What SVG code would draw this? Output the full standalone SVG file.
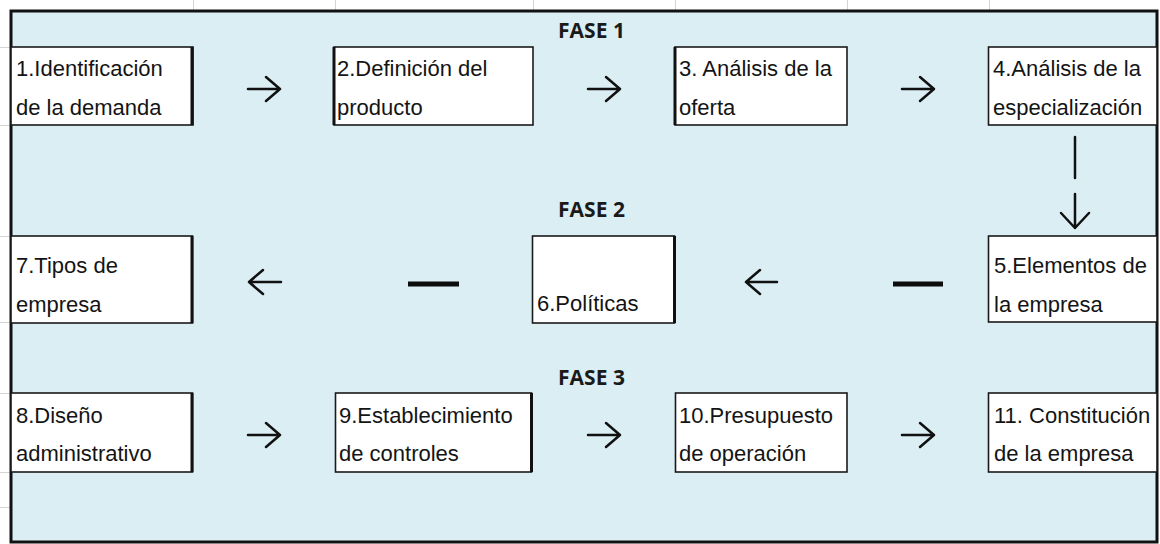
<svg xmlns="http://www.w3.org/2000/svg" width="1160" height="544" viewBox="0 0 1160 544">
<style>
.grid{stroke:#d4d4d4;stroke-width:1}
.box{fill:#ffffff;stroke:#1a1a1a;stroke-width:1.6}
.thick{stroke:#111;stroke-width:3}
.t{font-family:"Liberation Sans",Arial,sans-serif;font-size:22px;fill:#141414}
.fase{font-family:"Open Sans","Liberation Sans",sans-serif;font-weight:700;font-size:21px;fill:#1a1a1a;text-anchor:middle}
.arr{fill:none;stroke:#111;stroke-width:2.5;stroke-linecap:round;stroke-linejoin:round}
.dash{stroke:#0d0d0d;stroke-width:5}
</style>
<rect x="0" y="0" width="1160" height="544" fill="#ffffff"/>
<g id="gridlines">
<line class="grid" x1="193.5" y1="0" x2="193.5" y2="10"/>
<line class="grid" x1="335.5" y1="0" x2="335.5" y2="10"/>
<line class="grid" x1="533.5" y1="0" x2="533.5" y2="10"/>
<line class="grid" x1="675.5" y1="0" x2="675.5" y2="10"/>
<line class="grid" x1="847.5" y1="0" x2="847.5" y2="10"/>
<line class="grid" x1="989.5" y1="0" x2="989.5" y2="10"/>
<line class="grid" x1="0" y1="47.5" x2="10" y2="47.5"/>
<line class="grid" x1="0" y1="125.5" x2="10" y2="125.5"/>
<line class="grid" x1="0" y1="236.5" x2="10" y2="236.5"/>
<line class="grid" x1="0" y1="322.5" x2="10" y2="322.5"/>
<line class="grid" x1="0" y1="393.5" x2="10" y2="393.5"/>
<line class="grid" x1="0" y1="472.5" x2="10" y2="472.5"/>
<line class="grid" x1="0" y1="507.5" x2="10" y2="507.5"/>
</g>
<rect id="frame" x="11" y="11" width="1146" height="531" fill="#DAEEF3" stroke="#111" stroke-width="3"/>
<g id="labels">
<text class="fase" x="591.5" y="38">FASE 1</text>
<text class="fase" x="591.5" y="217">FASE 2</text>
<text class="fase" x="591.5" y="385">FASE 3</text>
</g>
<g id="n1">
<rect class="box" x="11" y="47" width="182" height="78"/>
<line class="thick" x1="192" y1="47" x2="192" y2="125"/>
<text class="t" x="16" y="76">1.Identificación</text>
<text class="t" x="16" y="115">de la demanda</text>
</g>
<g id="n2">
<rect class="box" x="334" y="47" width="199" height="78"/>
<line class="thick" x1="334" y1="47" x2="334" y2="125"/>
<text class="t" x="337" y="76">2.Definición del</text>
<text class="t" x="337" y="115">producto</text>
</g>
<g id="n3">
<rect class="box" x="675" y="47" width="172" height="78"/>
<line class="thick" x1="675" y1="47" x2="675" y2="125"/>
<text class="t" x="679" y="76">3. Análisis de la</text>
<text class="t" x="679" y="115">oferta</text>
</g>
<g id="n4">
<rect class="box" x="988.5" y="47" width="168.5" height="78"/>
<text class="t" x="993" y="76">4.Análisis de la</text>
<text class="t" x="993" y="115">especialización</text>
</g>
<g id="n5">
<rect class="box" x="988.5" y="236" width="168.5" height="86"/>
<text class="t" x="994" y="273">5.Elementos de</text>
<text class="t" x="994" y="312">la empresa</text>
</g>
<g id="n6">
<rect class="box" x="532.5" y="236" width="142" height="87"/>
<line class="thick" x1="674.5" y1="236" x2="674.5" y2="323"/>
<text class="t" x="537" y="311">6.Políticas</text>
</g>
<g id="n7">
<rect class="box" x="11" y="236" width="181.5" height="87"/>
<line class="thick" x1="192" y1="236" x2="192" y2="323"/>
<text class="t" x="16" y="273">7.Tipos de</text>
<text class="t" x="16" y="312">empresa</text>
</g>
<g id="n8">
<rect class="box" x="11" y="393" width="181.5" height="79"/>
<line class="thick" x1="192" y1="393" x2="192" y2="472"/>
<text class="t" x="16" y="423">8.Diseño</text>
<text class="t" x="16" y="461">administrativo</text>
</g>
<g id="n9">
<rect class="box" x="335.5" y="393" width="196" height="79"/>
<line class="thick" x1="531.5" y1="393" x2="531.5" y2="472"/>
<text class="t" x="339" y="423">9.Establecimiento</text>
<text class="t" x="339" y="461">de controles</text>
</g>
<g id="n10">
<rect class="box" x="675.5" y="393" width="171.5" height="79"/>
<text class="t" x="679" y="423">10.Presupuesto</text>
<text class="t" x="679" y="461">de operación</text>
</g>
<g id="n11">
<rect class="box" x="988.5" y="393" width="168.5" height="79"/>
<text class="t" x="994" y="423">11. Constitución</text>
<text class="t" x="994" y="461">de la empresa</text>
</g>
<g id="connectors">
<path class="arr" d="M248 89 H280 M266 77 L280 89 L266 101"/>
<path class="arr" d="M588 89 H620 M606 77 L620 89 L606 101"/>
<path class="arr" d="M902 89 H934 M920 77 L934 89 L920 101"/>
<path class="arr" d="M1075 137 V178"/>
<path class="arr" d="M1075 194 V228 M1061 213 L1075 228 L1089 213"/>
<path class="arr" d="M777 282 H746 M760 270 L746 282 L760 294"/>
<path class="arr" d="M281 282 H249 M263 270 L249 282 L263 294"/>
<line class="dash" x1="893" y1="284" x2="943" y2="284"/>
<line class="dash" x1="408" y1="284" x2="459" y2="284"/>
<path class="arr" d="M248 435 H280 M266 423 L280 435 L266 447"/>
<path class="arr" d="M588 435 H620 M606 423 L620 435 L606 447"/>
<path class="arr" d="M902 435 H934 M920 423 L934 435 L920 447"/>
</g>
</svg>
